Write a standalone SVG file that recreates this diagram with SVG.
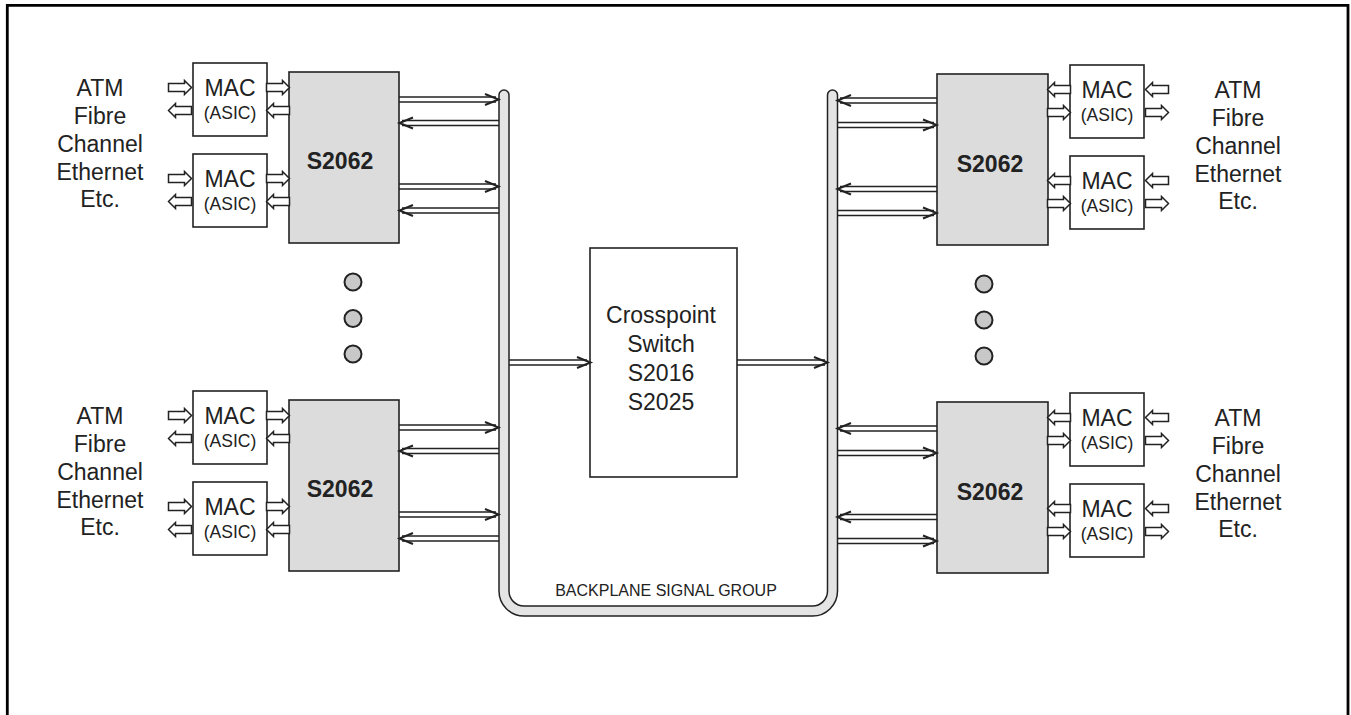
<svg xmlns="http://www.w3.org/2000/svg" width="1351" height="715" viewBox="0 0 1351 715">
<style>
text{font-family:"Liberation Sans",Arial,sans-serif;fill:#222}
.lbl{font-size:23px;text-anchor:middle}
.mac{font-size:23px;text-anchor:middle}
.asic{font-size:17.5px;text-anchor:middle}
.chip{font-size:23px;font-weight:bold;text-anchor:middle}
.box{fill:#fff;stroke:#222;stroke-width:1.6}
.gbox{fill:#dcdcdc;stroke:#222;stroke-width:1.6}
.dot{fill:#c8c8c8;stroke:#222;stroke-width:2}
.ln{fill:none;stroke:#222;stroke-width:1.5}
.hd{fill:none;stroke:#222;stroke-width:2}
.blk{fill:#fff;stroke:#222;stroke-width:1.5;stroke-linejoin:miter}
</style>
<defs>
<g id="dR"><path class="ln" d="M0,-2.5H97M0,2.5H97"/><path class="hd" d="M86,-5.5L99.5,0L86,5.5"/></g>
<g id="dL"><path class="ln" d="M3,-2.5H100M3,2.5H100"/><path class="hd" d="M14,-5.5L0.5,0L14,5.5"/></g>
<polygon id="bR" class="blk" points="0,-4 16,-4 16,-7 23,0 16,7 16,4 0,4"/>
<polygon id="bL" class="blk" points="23,-4 7,-4 7,-7 0,0 7,7 7,4 23,4"/>
</defs>
<path d="M7.3,720V5.3H1348V720" fill="none" stroke="#000" stroke-width="2.8"/>

<g id="backplane">
<path d="M504,95V591A20,20 0 0 0 524,611H812.5A20,20 0 0 0 832.5,591V95" fill="none" stroke="#222" stroke-width="11.5" stroke-linecap="round"/>
<path d="M504,95V591A20,20 0 0 0 524,611H812.5A20,20 0 0 0 832.5,591V95" fill="none" stroke="#e4e4e4" stroke-width="8.5" stroke-linecap="round"/>
<text x="666" y="596" style="font-size:16px;text-anchor:middle">BACKPLANE SIGNAL GROUP</text>
</g>

<g id="crosspoint">
<rect class="box" x="590" y="248" width="147" height="229"/>
<text class="lbl" x="661" y="322.5">Crosspoint</text>
<text class="lbl" x="661" y="351.5">Switch</text>
<text class="lbl" x="661" y="380.5">S2016</text>
<text class="lbl" x="661" y="410">S2025</text>
</g>

<g id="left-top">
<g id="lt-labels">
<text class="lbl" x="100" y="96">ATM</text>
<text class="lbl" x="100" y="123.5">Fibre</text>
<text class="lbl" x="100" y="151.5">Channel</text>
<text class="lbl" x="100" y="179.5">Ethernet</text>
<text class="lbl" x="100" y="207">Etc.</text>
</g>
<g id="lt-mac1"><rect class="box" x="193" y="63" width="74" height="73"/><text class="mac" x="230" y="95.5">MAC</text><text class="asic" x="230" y="118.5">(ASIC)</text></g>
<g id="lt-mac2"><rect class="box" x="193" y="154" width="74" height="73"/><text class="mac" x="230" y="186.5">MAC</text><text class="asic" x="230" y="209.5">(ASIC)</text></g>
<g id="lt-s2062"><rect class="gbox" x="289" y="72" width="110" height="171"/><text class="chip" x="340" y="169">S2062</text></g>
</g>

<g id="left-bottom">
<g id="lb-labels">
<text class="lbl" x="100" y="424">ATM</text>
<text class="lbl" x="100" y="451.5">Fibre</text>
<text class="lbl" x="100" y="479.5">Channel</text>
<text class="lbl" x="100" y="507.5">Ethernet</text>
<text class="lbl" x="100" y="535">Etc.</text>
</g>
<g id="lb-mac1"><rect class="box" x="193" y="391" width="74" height="73"/><text class="mac" x="230" y="423.5">MAC</text><text class="asic" x="230" y="446.5">(ASIC)</text></g>
<g id="lb-mac2"><rect class="box" x="193" y="482" width="74" height="73"/><text class="mac" x="230" y="514.5">MAC</text><text class="asic" x="230" y="537.5">(ASIC)</text></g>
<g id="lb-s2062"><rect class="gbox" x="289" y="400" width="110" height="171"/><text class="chip" x="340" y="497">S2062</text></g>
</g>

<g id="right-top">
<g id="rt-labels">
<text class="lbl" x="1238" y="98">ATM</text>
<text class="lbl" x="1238" y="125.5">Fibre</text>
<text class="lbl" x="1238" y="153.5">Channel</text>
<text class="lbl" x="1238" y="181.5">Ethernet</text>
<text class="lbl" x="1238" y="209">Etc.</text>
</g>
<g id="rt-mac1"><rect class="box" x="1070" y="65" width="74" height="73"/><text class="mac" x="1107" y="97.5">MAC</text><text class="asic" x="1107" y="120.5">(ASIC)</text></g>
<g id="rt-mac2"><rect class="box" x="1070" y="156" width="74" height="73"/><text class="mac" x="1107" y="188.5">MAC</text><text class="asic" x="1107" y="211.5">(ASIC)</text></g>
<g id="rt-s2062"><rect class="gbox" x="937" y="74" width="111" height="171"/><text class="chip" x="990" y="171.5">S2062</text></g>
</g>

<g id="right-bottom">
<g id="rb-labels">
<text class="lbl" x="1238" y="426">ATM</text>
<text class="lbl" x="1238" y="453.5">Fibre</text>
<text class="lbl" x="1238" y="481.5">Channel</text>
<text class="lbl" x="1238" y="509.5">Ethernet</text>
<text class="lbl" x="1238" y="537">Etc.</text>
</g>
<g id="rb-mac1"><rect class="box" x="1070" y="393" width="74" height="73"/><text class="mac" x="1107" y="425.5">MAC</text><text class="asic" x="1107" y="448.5">(ASIC)</text></g>
<g id="rb-mac2"><rect class="box" x="1070" y="484" width="74" height="73"/><text class="mac" x="1107" y="516.5">MAC</text><text class="asic" x="1107" y="539.5">(ASIC)</text></g>
<g id="rb-s2062"><rect class="gbox" x="937" y="402" width="111" height="171"/><text class="chip" x="990" y="499.5">S2062</text></g>
</g>

<g id="dots">
<circle class="dot" cx="353" cy="282" r="8.5"/>
<circle class="dot" cx="353" cy="318.5" r="8.5"/>
<circle class="dot" cx="353" cy="354" r="8.5"/>
<circle class="dot" cx="984" cy="284" r="8.5"/>
<circle class="dot" cx="984" cy="320" r="8.5"/>
<circle class="dot" cx="984" cy="356" r="8.5"/>
</g>

<g id="connectors">
<!-- left top block arrows -->
<use href="#bR" x="168.5" y="87.5"/><use href="#bL" x="168.5" y="110.5"/>
<use href="#bR" x="266.5" y="87.5"/><use href="#bL" x="266.5" y="110.5"/>
<use href="#bR" x="168.5" y="178.5"/><use href="#bL" x="168.5" y="201.5"/>
<use href="#bR" x="266.5" y="178.5"/><use href="#bL" x="266.5" y="201.5"/>
<!-- left bottom block arrows -->
<use href="#bR" x="168.5" y="415.5"/><use href="#bL" x="168.5" y="438.5"/>
<use href="#bR" x="266.5" y="415.5"/><use href="#bL" x="266.5" y="438.5"/>
<use href="#bR" x="168.5" y="506.5"/><use href="#bL" x="168.5" y="529.5"/>
<use href="#bR" x="266.5" y="506.5"/><use href="#bL" x="266.5" y="529.5"/>
<!-- right top block arrows -->
<use href="#bL" x="1145.5" y="89.5"/><use href="#bR" x="1145.5" y="112.5"/>
<use href="#bL" x="1047.5" y="89.5"/><use href="#bR" x="1047.5" y="112.5"/>
<use href="#bL" x="1145.5" y="180.5"/><use href="#bR" x="1145.5" y="203.5"/>
<use href="#bL" x="1047.5" y="180.5"/><use href="#bR" x="1047.5" y="203.5"/>
<!-- right bottom block arrows -->
<use href="#bL" x="1145.5" y="417.5"/><use href="#bR" x="1145.5" y="440.5"/>
<use href="#bL" x="1047.5" y="417.5"/><use href="#bR" x="1047.5" y="440.5"/>
<use href="#bL" x="1145.5" y="508.5"/><use href="#bR" x="1145.5" y="531.5"/>
<use href="#bL" x="1047.5" y="508.5"/><use href="#bR" x="1047.5" y="531.5"/>
<!-- left S2062 to backplane -->
<use href="#dR" x="399" y="99.5"/><use href="#dL" x="399" y="123"/>
<use href="#dR" x="399" y="186.5"/><use href="#dL" x="399" y="210.5"/>
<use href="#dR" x="399" y="427.5"/><use href="#dL" x="399" y="451"/>
<use href="#dR" x="399" y="514.5"/><use href="#dL" x="399" y="538.5"/>
<!-- right backplane to S2062 -->
<use href="#dL" x="837" y="100.5"/><use href="#dR" x="837" y="125"/>
<use href="#dL" x="837" y="189"/><use href="#dR" x="837" y="213"/>
<use href="#dL" x="837" y="428.5"/><use href="#dR" x="837" y="453"/>
<use href="#dL" x="837" y="517"/><use href="#dR" x="837" y="541"/>
<!-- crosspoint -->
<path class="ln" d="M509,360H587M509,365H587"/><path class="hd" d="M577,357L590.5,362.5L577,368"/>
<path class="ln" d="M737,360H825M737,365H825"/><path class="hd" d="M814,357L827.5,362.5L814,368"/>
</g>
</svg>
